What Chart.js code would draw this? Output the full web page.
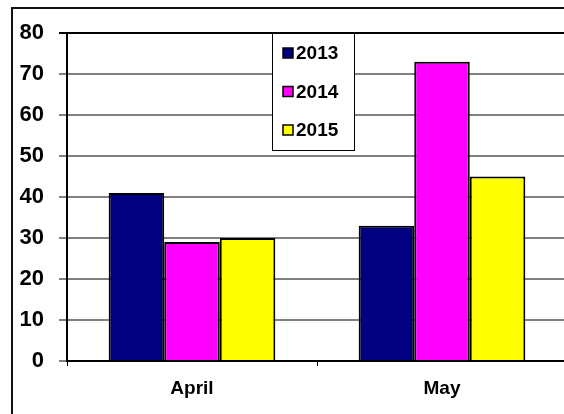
<!DOCTYPE html>
<html>
<head>
<meta charset="utf-8">
<script src="https://cdn.jsdelivr.net/npm/chart.js@4/dist/chart.umd.min.js"></script>
<style>
    html, body { margin: 0; padding: 0; background: #fff; }
    body { width: 564px; height: 414px; overflow: hidden; position: relative; }
    #frame { position: absolute; left: 11px; top: 7px; width: 600px; height: 500px;
        border-left: 2px solid #111; border-top: 2px solid #111; }
    #wrap { position: absolute; left: 0; top: 0; width: 600px; height: 414px; }
</style>
</head>
<body>
<div id="frame"></div>
<div id="wrap"><canvas id="barChart" width="600" height="414"></canvas></div>
<script>
const categories = ['April', 'May']
const seriesLabels = ['2013', '2014', '2015']
const values2013 = [41, 33]
const values2014 = [29, 73]
const values2015 = [30, 45]
const yMin = 0
const yMax = 80
const yStep = 10

const seriesColors = ['#000080', '#FF00FF', '#FFFF00']
const fontFamily = "'Liberation Sans', Arial, sans-serif"

// Legend box drawn inside the plot area, Excel style
const boxLegend = {
    id: 'boxLegend',
    afterDraw(chart) {
        const ctx = chart.ctx
        const box = { x: 272, y: 33, w: 82, h: 117 }
        ctx.save()
        ctx.fillStyle = '#fff'
        ctx.fillRect(box.x, box.y, box.w, box.h)
        ctx.strokeStyle = '#000'
        ctx.lineWidth = 1
        ctx.strokeRect(box.x + 0.5, box.y + 0.5, box.w, box.h)
        ctx.font = 'bold 19px ' + fontFamily
        ctx.textBaseline = 'middle'
        chart.data.datasets.forEach((ds, i) => {
            const cy = 53 + i * 38.5
            ctx.fillStyle = ds.backgroundColor
            ctx.fillRect(283, cy - 5, 10, 10)
            ctx.strokeStyle = '#000'
            ctx.lineWidth = 1.5
            ctx.strokeRect(283, cy - 5, 10, 10)
            ctx.fillStyle = '#000'
            ctx.fillText(ds.label, 296, cy + 1)
        })
        ctx.restore()
    }
}

const datasets = [values2013, values2014, values2015].map((values, i) => ({
    label: seriesLabels[i],
    data: values,
    backgroundColor: seriesColors[i],
    borderColor: '#000',
    borderWidth: 2,
    borderSkipped: 'bottom',
    barPercentage: 1,
    categoryPercentage: 2 / 3,
}))

new Chart(document.getElementById('barChart').getContext('2d'), {
    type: 'bar',
    data: { labels: categories, datasets },
    options: {
        responsive: false,
        animation: false,
        devicePixelRatio: 1,
        layout: { padding: { top: 33, right: 33, left: 0, bottom: 0 } },
        plugins: {
            legend: { display: false },
            tooltip: { enabled: false },
        },
        scales: {
            x: {
                offset: true,
                grid: {
                    offset: true,
                    drawOnChartArea: false,
                    color: '#000',
                    lineWidth: 1,
                    tickLength: 5,
                },
                border: { color: '#000', width: 2 },
                ticks: {
                    color: '#000',
                    padding: 11,
                    font: { family: fontFamily, size: 19, weight: 'bold' },
                },
                afterFit(scale) { scale.height = 53 },
            },
            y: {
                min: yMin,
                max: yMax,
                grid: {
                    color: c => (c.tick && c.tick.value === yMax ? '#000' : '#808080'),
                    lineWidth: 2,
                    tickLength: 8,
                },
                border: { color: '#000', width: 2 },
                ticks: {
                    stepSize: yStep,
                    color: '#000',
                    padding: 15,
                    font: { family: fontFamily, size: 22, weight: 'bold' },
                },
                afterFit(scale) { scale.width = 67 },
            },
        },
    },
    plugins: [boxLegend],
})
</script>
</body>
</html>
